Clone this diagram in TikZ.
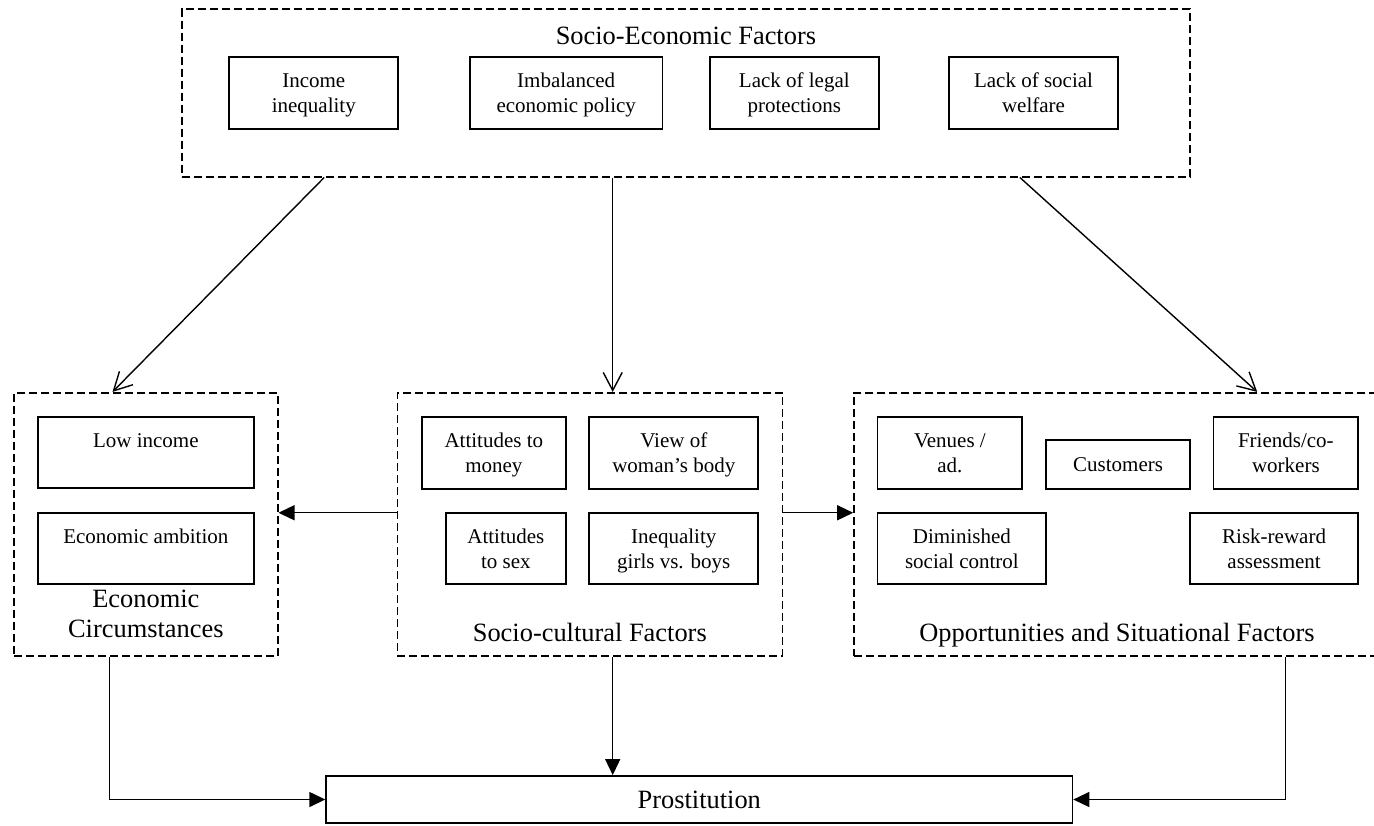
\documentclass[tikz,border=0pt]{standalone}
\usepackage{fontspec}
\setmainfont{Liberation Serif}
\usetikzlibrary{arrows.meta,calc}
\newcommand\topst{\rule{0pt}{11.1pt}}
\newcommand\botst{\rule[-3.8pt]{0pt}{0pt}}
\begin{document}
\begin{tikzpicture}[x=0.5pt,y=-0.5pt,
  sbox/.style={draw, line width=0.9pt, inner sep=0pt, align=center, font=\fontsize{10.5}{12.7}\selectfont},
  group/.style={draw, dash pattern=on 4pt off 2pt, line width=0.8pt, inner sep=0pt},
  gtitle/.style={inner sep=0pt, align=center, font=\fontsize{13.2}{15}\selectfont},
  conn/.style={line width=0.7pt},
  openarr/.style={conn, -{Straight Barb[length=9pt,width=9.5pt]}},
  fillarr/.style={conn, -{Triangle[length=8pt,width=7.5pt]}}]
\useasboundingbox (0,0) rectangle (1374,825);
\clip (0,0) rectangle (1374,825);

% Socio-Economic Factors
\node[group, minimum width=504.2pt, minimum height=83.8pt] (SE) at (685.9,92.9) {};
\node[gtitle, anchor=base] (SEt) at (685.9,44) {Socio-Economic Factors};
\node[sbox, minimum width=84.5pt, minimum height=36pt] (se1) at (313.8,92.7) {\topst Income\\inequality\botst};
\node[sbox, minimum width=96.2pt, minimum height=36pt] (se2) at (566.2,92.7) {\topst Imbalanced\\economic policy\botst};
\node[sbox, minimum width=84.3pt, minimum height=36pt] (se3) at (794.3,92.7) {\topst Lack of legal\\protections\botst};
\node[sbox, minimum width=84.2pt, minimum height=36pt] (se4) at (1033.5,92.7) {\topst Lack of social\\welfare\botst};

% Economic Circumstances
\node[group, minimum width=131.85pt, minimum height=131.65pt] (EC) at (145.85,524.35) {};
\node[sbox, minimum width=108.15pt, minimum height=35.7pt] (ec1) at (145.85,452.5) {\topst Low income\\\botst};
\node[sbox, minimum width=108.15pt, minimum height=35.8pt] (ec2) at (145.85,548.5) {\topst Economic ambition\\\botst};
\node[gtitle] (ECt) at (145.85,614) {Economic\\Circumstances};

% Socio-cultural Factors
\node[group, minimum width=192.5pt, minimum height=131.65pt] (SC) at (589.8,524.35) {};
\node[sbox, minimum width=72.15pt, minimum height=36pt] (sc1) at (493.85,452.7) {\topst Attitudes to\\money\botst};
\node[sbox, minimum width=84.5pt, minimum height=36pt] (sc2) at (673.8,452.7) {\topst View of\\woman’s body\botst};
\node[sbox, minimum width=60.15pt, minimum height=35.8pt] (sc3) at (505.85,548.5) {\topst Attitudes\\to sex\botst};
\node[sbox, minimum width=84.5pt, minimum height=35.8pt] (sc4) at (673.8,548.5) {\topst Inequality\\girls vs. boys\botst};
\node[gtitle, anchor=base] (SCt) at (589.8,641.7) {Socio-cultural Factors};

% Opportunities and Situational Factors
\node[group, minimum width=263pt, minimum height=131.65pt] (OP) at (1117,524.35) {};
\node[sbox, minimum width=72.4pt, minimum height=36pt] (op1) at (949.9,452.7) {\topst Venues /\\ad.\botst};
\node[sbox, minimum width=72.25pt, minimum height=24.2pt] (op2) at (1118.05,464.5) {Customers};
\node[sbox, minimum width=72.45pt, minimum height=36pt] (op3) at (1285.85,452.7) {\topst Friends/co-\\workers\botst};
\node[sbox, minimum width=84.35pt, minimum height=35.8pt] (op4) at (961.85,548.5) {\topst Diminished\\social control\botst};
\node[sbox, minimum width=84.2pt, minimum height=35.8pt] (op5) at (1274.1,548.5) {\topst Risk-reward\\assessment\botst};
\node[gtitle, anchor=base] (OPt) at (1117,641.7) {Opportunities and Situational Factors};

% Prostitution
\node[sbox, font=\fontsize{13.2}{15}\selectfont, minimum width=373.1pt, minimum height=23.5pt] (PR) at (699.3,799.5) {Prostitution};

% connectors from Socio-Economic Factors
\draw[openarr] ([xshift=71.65pt]SE.south west) -- ([xshift=49.65pt]EC.north west);
\draw[openarr] ([xshift=215.9pt]SE.south west) -- ([xshift=108.1pt]SC.north west);
\draw[openarr] ([xshift=419.5pt]SE.south west) -- ([xshift=202pt]OP.north west);

% connectors from Socio-cultural Factors
\draw[fillarr] ([yshift=5.8pt]SC.west) -- ([yshift=5.8pt]EC.east);
\draw[fillarr] ([yshift=5.8pt]SC.east) -- ([yshift=5.8pt]OP.west);

% connectors to Prostitution
\draw[fillarr] ([xshift=48pt]EC.south west) |- (PR.west);
\draw[fillarr] ([xshift=108.1pt]SC.south west) -- ([xshift=108.1pt]SC.south west |- PR.north);
\draw[fillarr] ([xshift=216pt]OP.south west) |- (PR.east);
\end{tikzpicture}
\end{document}
